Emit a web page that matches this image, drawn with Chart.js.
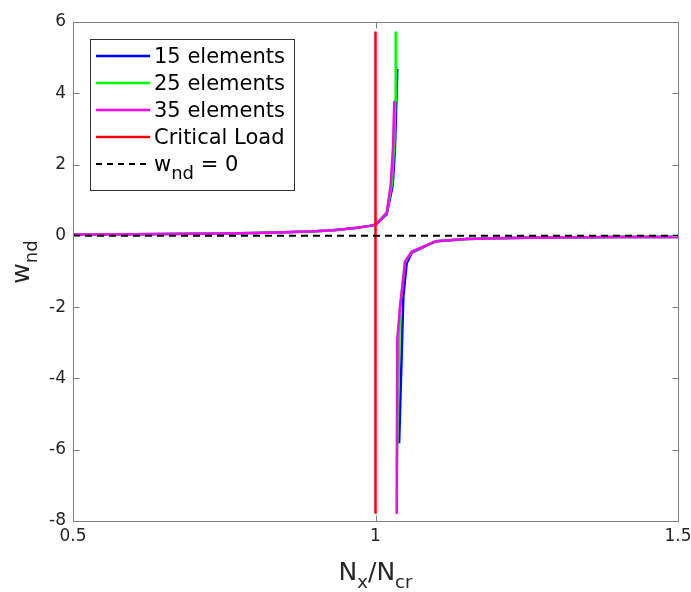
<!DOCTYPE html>
<html>
<head>
<meta charset="utf-8">
<script src="https://cdn.jsdelivr.net/npm/chart.js@4.4.1/dist/chart.umd.min.js"></script>
<style>
  html, body { margin: 0; padding: 0; background: #fff; }
  #wrap { width: 691px; height: 592px; }
</style>
</head>
<body>
<div id="wrap"><canvas id="chart" width="691" height="592"></canvas></div>
<script>
// sub-critical branch, common to all meshes
const loadPre = [0.5, 0.55, 0.6, 0.65, 0.7, 0.75, 0.8, 0.85, 0.9, 0.93, 0.95, 0.97, 0.99, 1.0];
const wPre = [0.035, 0.04, 0.045, 0.05, 0.057, 0.066, 0.08, 0.1, 0.13, 0.16, 0.19, 0.23, 0.28, 0.31];

// post-critical tail, common to all meshes
const loadPost = [1.1, 1.15, 1.2, 1.25, 1.3, 1.35, 1.4, 1.45, 1.5];
const wPost = [-0.15, -0.09, -0.065, -0.055, -0.045, -0.04, -0.035, -0.032, -0.03];

// near the critical load, per mesh
const load15Up = [1.0185, 1.0284, 1.032, 1.0345, 1.036];
const w15Up = [0.6, 1.42, 2.4, 3.78, 4.68];
const load15Down = [1.039, 1.046, 1.0515, 1.06];
const w15Down = [-5.82, -1.7, -0.77, -0.47];

const load25Up = [1.0185, 1.027, 1.031, 1.0328, 1.0334];
const w25Up = [0.63, 1.45, 2.6, 3.8, 5.73];
const load25Down = [1.0353, 1.0405, 1.0485, 1.06];
const w25Down = [-6.6, -2.05, -0.75, -0.45];

const load35Up = [1.0185, 1.025, 1.029, 1.031];
const w35Up = [0.65, 1.42, 2.5, 3.78];
const load35Down = [1.035, 1.036, 1.0405, 1.0488, 1.06];
const w35Down = [-7.8, -2.9, -1.99, -0.72, -0.44];

const criticalX = [1, 1];
const criticalY = [-7.8, 5.73];
const zeroX = [0.5, 1.5];
const zeroY = [0, 0];

const xTicks = [0.5, 1, 1.5];
const yTicks = [-8, -6, -4, -2, 0, 2, 4, 6];

function pts(xs, ys) {
  return xs.map((x, i) => ({ x, y: ys[i] }));
}

function branch(upX, upY, downX, downY) {
  return [
    ...pts(loadPre, wPre),
    ...pts(upX, upY),
    { x: (upX[upX.length - 1] + downX[0]) / 2, y: null },
    ...pts(downX, downY),
    ...pts(loadPost, wPost)
  ];
}

const FONT = "'DejaVu Sans', sans-serif";
const TXT = '#262626';

const legendItems = [
  { label: '15 elements', color: '#0000ff', dash: [] },
  { label: '25 elements', color: '#00ff00', dash: [] },
  { label: '35 elements', color: '#ff00ff', dash: [] },
  { label: 'Critical Load', color: '#ff0000', dash: [] },
  { label: 'w', sub: 'nd', rest: ' = 0', color: '#000000', dash: [6, 5] }
];

// draws text with a lowered subscript, returns width
function drawSub(ctx, parts, x, y, measureOnly) {
  let w = 0;
  parts.forEach(p => {
    ctx.font = p.sub ? '18px ' + FONT : p.size + 'px ' + FONT;
    const tw = ctx.measureText(p.t).width;
    if (!measureOnly) ctx.fillText(p.t, x + w, y + (p.sub ? 8 : 0));
    w += tw;
  });
  return w;
}

const framePlugin = {
  id: 'frame',
  afterDraw(chart) {
    const ctx = chart.ctx;
    const a = chart.chartArea;
    const xs = chart.scales.x, ys = chart.scales.y;
    const L = Math.round(a.left) + 0.5, R = Math.round(a.right) + 0.5;
    const T = Math.round(a.top) + 0.5, B = Math.round(a.bottom) + 0.5;
    ctx.save();
    ctx.strokeStyle = '#808080';
    ctx.lineWidth = 1;
    ctx.strokeRect(L, T, R - L, B - T);
    ctx.beginPath();
    xTicks.forEach(v => {
      const px = Math.round(xs.getPixelForValue(v)) + 0.5;
      ctx.moveTo(px, B); ctx.lineTo(px, B - 6);
      ctx.moveTo(px, T); ctx.lineTo(px, T + 6);
    });
    yTicks.forEach(v => {
      const py = Math.round(ys.getPixelForValue(v)) + 0.5;
      ctx.moveTo(L, py); ctx.lineTo(L + 6, py);
      ctx.moveTo(R, py); ctx.lineTo(R - 6, py);
    });
    ctx.stroke();

    // axis titles
    ctx.fillStyle = TXT;
    ctx.textBaseline = 'alphabetic';
    ctx.textAlign = 'left';
    const xParts = [
      { t: 'N', size: 25 }, { t: 'x', sub: true }, { t: '/', size: 25 },
      { t: 'N', size: 25 }, { t: 'cr', sub: true }
    ];
    const xw = drawSub(ctx, xParts, 0, 0, true);
    drawSub(ctx, xParts, (a.left + a.right) / 2 - xw / 2, 580, false);

    const yParts = [{ t: 'w', size: 25 }, { t: 'nd', sub: true }];
    const yw = drawSub(ctx, yParts, 0, 0, true);
    ctx.save();
    ctx.translate(29, 262);
    ctx.rotate(-Math.PI / 2);
    drawSub(ctx, yParts, -yw / 2, 0, false);
    ctx.restore();

    // legend
    ctx.fillStyle = '#fff';
    ctx.fillRect(90.5, 39.5, 204, 151);
    ctx.strokeStyle = '#333';
    ctx.lineWidth = 1;
    ctx.strokeRect(90.5, 39.5, 204, 151);
    legendItems.forEach((it, i) => {
      const cy = 56 + i * 27;
      ctx.beginPath();
      ctx.strokeStyle = it.color;
      ctx.lineWidth = it.dash.length ? 2 : 2.5;
      ctx.setLineDash(it.dash);
      ctx.moveTo(96, cy); ctx.lineTo(150, cy);
      ctx.stroke();
      ctx.setLineDash([]);
      ctx.fillStyle = '#000';
      if (it.sub) {
        drawSub(ctx, [{ t: it.label, size: 21 }, { t: it.sub, sub: true }, { t: it.rest, size: 21 }], 154, cy + 7, false);
      } else {
        ctx.font = '21px ' + FONT;
        ctx.fillText(it.label, 154, cy + 7);
      }
    });
    ctx.restore();
  }
};

const ctx = document.getElementById('chart').getContext('2d');
new Chart(ctx, {
  type: 'line',
  data: {
    datasets: [
      { label: '15 elements', data: branch(load15Up, w15Up, load15Down, w15Down), borderColor: '#0000ff', borderWidth: 2.5, order: 5 },
      { label: '25 elements', data: branch(load25Up, w25Up, load25Down, w25Down), borderColor: '#00ff00', borderWidth: 2.5, order: 4 },
      { label: '35 elements', data: branch(load35Up, w35Up, load35Down, w35Down), borderColor: '#ff00ff', borderWidth: 2.5, order: 3 },
      { label: 'Critical Load', data: pts(criticalX, criticalY), borderColor: '#ff0000', borderWidth: 2.5, order: 2 },
      { label: 'w_nd = 0', data: pts(zeroX, zeroY), borderColor: '#000000', borderWidth: 2, borderDash: [7, 5], order: 1 }
    ]
  },
  options: {
    responsive: false,
    devicePixelRatio: 1,
    animation: false,
    spanGaps: false,
    elements: { point: { radius: 0 }, line: { tension: 0, fill: false } },
    layout: { padding: { left: 0, top: 22, right: 0, bottom: 0 } },
    plugins: { legend: { display: false }, tooltip: { enabled: false } },
    scales: {
      x: {
        type: 'linear', min: 0.5, max: 1.5,
        afterFit: s => { s.height = 71; s.paddingRight = 13; },
        afterBuildTicks: s => { s.ticks = xTicks.map(v => ({ value: v })); },
        ticks: { color: TXT, font: { family: FONT, size: 17 }, padding: 5, maxRotation: 0, callback: v => String(v) },
        grid: { drawOnChartArea: false, drawTicks: false },
        border: { display: false }
      },
      y: {
        type: 'linear', min: -8, max: 6,
        afterFit: s => { s.width = 73; },
        afterBuildTicks: s => { s.ticks = yTicks.map(v => ({ value: v })); },
        ticks: { color: TXT, font: { family: FONT, size: 17 }, padding: 7, callback: v => String(v) },
        grid: { drawOnChartArea: false, drawTicks: false },
        border: { display: false }
      }
    }
  },
  plugins: [framePlugin]
});
</script>
</body>
</html>
